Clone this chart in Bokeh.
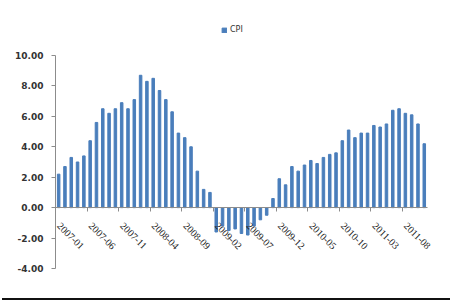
from bokeh.plotting import figure
from bokeh.models import (FixedTicker, NumeralTickFormatter, Legend, LegendItem,
                          ColumnDataSource, Div, LabelSet)
from bokeh.layouts import column
from bokeh.embed import file_html
from bokeh.resources import INLINE
import math

years = [2007, 2008, 2009, 2010, 2011]
cpi = [2.2, 2.7, 3.3, 3.0, 3.4, 4.4, 5.6, 6.5, 6.2, 6.5, 6.9, 6.5,
       7.1, 8.7, 8.3, 8.5, 7.7, 7.1, 6.3, 4.9, 4.6, 4.0, 2.4, 1.2,
       1.0, -1.6, -1.2, -1.5, -1.4, -1.7, -1.8, -1.2, -0.8, -0.5, 0.6, 1.9,
       1.5, 2.7, 2.4, 2.8, 3.1, 2.9, 3.3, 3.5, 3.6, 4.4, 5.1, 4.6,
       4.9, 4.9, 5.4, 5.3, 5.5, 6.4, 6.5, 6.2, 6.1, 5.5, 4.2]
months = [f"{y}-{m:02d}" for y in years for m in range(1, 13)][:len(cpi)]
y_ticks = [-4, -2, 0, 2, 4, 6, 8, 10]

x = list(range(len(cpi)))
src = ColumnDataSource(dict(x=x, cpi=cpi, month=months))

tick_idx = list(range(0, len(cpi), 5))
xticks = [i - 0.5 for i in tick_idx]
lab_src = ColumnDataSource(dict(x=xticks, y=[0] * len(xticks),
                                text=[months[i] for i in tick_idx]))

p = figure(width=450, height=298, output_backend="svg", toolbar_location=None,
           x_range=(-0.5, 62.0), y_range=(-4, 12.3),
           min_border_left=55, min_border_right=1, min_border_top=20, min_border_bottom=30)

r = p.vbar(x="x", top="cpi", bottom=0, width=0.4, color="#4a7ebb", source=src)

p.xgrid.visible = False
p.ygrid.visible = False
p.outline_line_color = None

font = "DejaVu Sans"
p.xaxis.ticker = FixedTicker(ticks=xticks)
p.xaxis.bounds = (-0.5, len(cpi) - 0.5)
p.xaxis.fixed_location = 0
p.xaxis.major_label_overrides = {t: "" for t in xticks}
p.xaxis.major_label_standoff = 0
p.xaxis.minor_tick_line_color = None
p.xaxis.major_tick_in = 0
p.xaxis.major_tick_out = 4
p.xaxis.axis_line_color = "#8c8c8c"
p.xaxis.major_tick_line_color = "#8c8c8c"

labels = LabelSet(x="x", y="y", text="text", source=lab_src, angle=-math.pi / 4,
                  text_align="left", text_baseline="top", x_offset=6, y_offset=-14,
                  text_font=font, text_font_size="10px", text_color="#222222")
p.add_layout(labels)

p.yaxis.ticker = FixedTicker(ticks=y_ticks)
p.yaxis.formatter = NumeralTickFormatter(format="0.00")
p.yaxis.bounds = (-4, 10)
p.yaxis.minor_tick_line_color = None
p.yaxis.major_tick_in = 0
p.yaxis.major_tick_out = 4
p.yaxis.axis_line_color = "#8c8c8c"
p.yaxis.major_tick_line_color = "#8c8c8c"
p.yaxis.major_label_text_font = font
p.yaxis.major_label_text_font_size = "9px"
p.yaxis.major_label_text_color = "#333333"
p.yaxis.major_label_text_font_style = "bold"
p.yaxis.major_label_standoff = 8

legend = Legend(items=[LegendItem(label="CPI", renderers=[r])],
                location=(166, 234), orientation="horizontal",
                glyph_width=6, glyph_height=6, label_text_font=font,
                label_text_font_size="8px", label_text_color="#333333",
                border_line_color=None, background_fill_alpha=0,
                padding=0, spacing=2, label_standoff=3, margin=0)
p.add_layout(legend)

bar = Div(text="", width=448, height=2, margin=(0, 0, 0, 2),
          styles={"background-color": "#111111"})

layout = column(p, bar, spacing=0)
open("out.html", "w").write(file_html(layout, INLINE))
